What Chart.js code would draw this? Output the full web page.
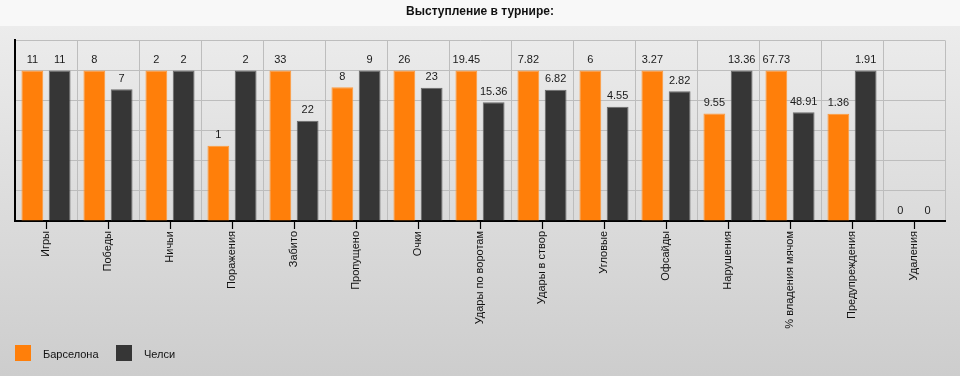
<!DOCTYPE html>
<html>
<head>
<meta charset="utf-8">
<script src="https://cdn.jsdelivr.net/npm/chart.js@4/dist/chart.umd.min.js"></script>
<style>
  html, body { margin: 0; padding: 0; background: #ececec; }
  #wrap { position: relative; width: 960px; height: 376px; overflow: hidden; }
  #c { position: absolute; left: 0; top: 0; }
  .lg { position: absolute; font: 11px "Liberation Sans", Arial, sans-serif; color: #111; line-height: 16px; }
  .sw { position: absolute; width: 16px; height: 16px; }
</style>
</head>
<body>
<div id="wrap">
  <canvas id="c" width="960" height="376"></canvas>
  <div id="legend"></div>
</div>
<script>
const titleText = "Выступление в турнире:";
const categories = ["Игры", "Победы", "Ничьи", "Поражения", "Забито", "Пропущено", "Очки",
  "Удары по воротам", "Удары в створ", "Угловые", "Офсайды", "Нарушения",
  "% владения мячом", "Предупреждения", "Удаления"];
const seriesNames = ["Барселона", "Челси"];
const barcelona = [11, 8, 2, 1, 33, 8, 26, 19.45, 7.82, 6, 3.27, 9.55, 67.73, 1.36, 0];
const chelsea   = [11, 7, 2, 2, 22, 9, 23, 15.36, 6.82, 4.55, 2.82, 13.36, 48.91, 1.91, 0];
const colors = ["#ff7f0a", "#363636"];
const borders = ["#ff9a3c", "#6b6b6b"];

// bar heights: each category scaled to its larger value (= 100)
function scaled(vals) {
  return vals.map((v, i) => {
    const m = Math.max(barcelona[i], chelsea[i]);
    return m > 0 ? v / m * 100 : 0;
  });
}
const raw = [barcelona, chelsea];

const bgPlugin = {
  id: 'bg',
  beforeDraw(chart) {
    const ctx = chart.ctx;
    ctx.save();
    const g = ctx.createLinearGradient(0, 26, 0, 376);
    g.addColorStop(0, '#ececec');
    g.addColorStop(1, '#cdcdcd');
    ctx.fillStyle = g;
    ctx.fillRect(0, 0, chart.width, chart.height);
    ctx.fillStyle = '#f8f8f8';
    ctx.fillRect(0, 0, chart.width, 26);
    ctx.restore();
  }
};

const labelPlugin = {
  id: 'vals',
  afterDatasetsDraw(chart) {
    const ctx = chart.ctx;
    ctx.save();
    ctx.font = '11px "Liberation Sans", Arial, sans-serif';
    ctx.fillStyle = '#1a1a1a';
    ctx.textAlign = 'center';
    ctx.textBaseline = 'bottom';
    chart.data.datasets.forEach((ds, di) => {
      const meta = chart.getDatasetMeta(di);
      meta.data.forEach((bar, i) => {
        ctx.fillText(String(raw[di][i]), bar.x, bar.y - 5);
      });
    });
    ctx.restore();
  },
  afterDraw(chart) {
    const ctx = chart.ctx;
    const xs = chart.scales.x;
    const b = chart.chartArea.bottom;
    ctx.save();
    ctx.strokeStyle = '#000';
    ctx.lineWidth = 1.2;
    categories.forEach((c, i) => {
      const x = Math.round(xs.getPixelForValue(i)) + 0.5;
      ctx.beginPath();
      ctx.moveTo(x, b);
      ctx.lineTo(x, b + 8);
      ctx.stroke();
    });
    ctx.restore();
  }
};

new Chart(document.getElementById('c'), {
  type: 'bar',
  data: {
    labels: categories,
    datasets: seriesNames.map((n, k) => ({
      label: n,
      data: scaled(raw[k]),
      backgroundColor: colors[k],
      borderColor: borders[k],
      borderWidth: 1,
      categoryPercentage: 0.88,
      barPercentage: 0.8
    }))
  },
  options: {
    responsive: false,
    animation: false,
    layout: { padding: { left: 15, right: 15, top: 0, bottom: 0 } },
    plugins: {
      legend: { display: false },
      tooltip: { enabled: false },
      title: {
        display: true,
        text: titleText,
        color: '#111',
        font: { family: '"Liberation Sans Narrow", "Liberation Sans", Arial, sans-serif', size: 12, weight: 'bold' },
        padding: { top: 4, bottom: 22 }
      }
    },
    scales: {
      x: {
        grid: { color: '#bdbdbd', lineWidth: 1, drawTicks: false, offset: true },
        border: { display: true, color: '#000', width: 2 },
        ticks: {
          color: '#111',
          font: { family: '"Liberation Sans", Arial, sans-serif', size: 11 },
          minRotation: 90, maxRotation: 90, padding: 10, autoSkip: false
        },
        afterFit(scale) { scale.height = 155; }
      },
      y: {
        min: 0, max: 120,
        grid: { color: '#bdbdbd', lineWidth: 1, drawTicks: false },
        border: { display: true, color: '#000', width: 2 },
        ticks: { display: false, stepSize: 20 },
        afterFit(scale) { scale.width = 0; }
      }
    }
  },
  plugins: [bgPlugin, labelPlugin]
});

// legend
const lg = document.getElementById('legend');
const legendX = [15, 116];
seriesNames.forEach((n, k) => {
  const sw = document.createElement('div');
  sw.className = 'sw';
  sw.style.left = legendX[k] + 'px';
  sw.style.top = '345px';
  sw.style.background = colors[k];
  lg.appendChild(sw);
  const t = document.createElement('div');
  t.className = 'lg';
  t.style.left = (legendX[k] + 28) + 'px';
  t.style.top = '346px';
  t.textContent = n;
  lg.appendChild(t);
});
</script>
</body>
</html>
